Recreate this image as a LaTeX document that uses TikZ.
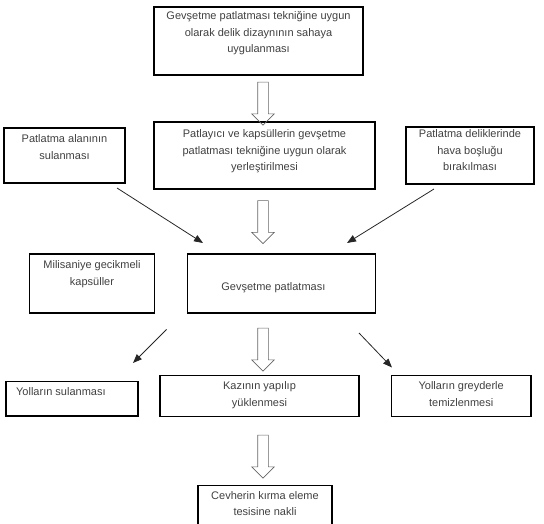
\documentclass[tikz,border=0pt]{standalone}
\usepackage{fontspec}
\setmainfont{Liberation Sans}
\usetikzlibrary{positioning}
\usetikzlibrary{arrows.meta}
\usetikzlibrary{shapes.arrows}

\begin{document}
\begin{tikzpicture}
		[x=1pt, y=-1pt,
		box/.style={rectangle, draw=black, line width=1.1pt, inner sep=0pt},
		txt/.style={font=\fontsize{11}{16.5}\selectfont, text=black!75, align=center, inner sep=0pt},
		hollow/.style={single arrow, draw=black!60, line width=0.6pt, shape border rotate=270, minimum height=43pt, single arrow head extend=6pt, inner sep=5pt},
		slant/.style={draw=black!85, line width=0.8pt, -{Triangle[length=9pt, width=7pt]}}]
		\useasboundingbox (0,0) rectangle (544,524);

		\node[box, minimum width=209pt, minimum height=68pt, label={[txt, below=5pt]north:{Gevşetme patlatması tekniğine uygun\\olarak delik dizaynının sahaya\\uygulanması}}] (delik) at (258.5,41) {};
		\node[box, minimum width=121pt, minimum height=55pt, label={[txt, below=7pt]north:{Patlatma alanının\\sulanması}}] (alan) at (64.5,155.5) {};
		\node[box, minimum width=221pt, minimum height=67pt, label={[txt, below=8pt]north:{Patlayıcı ve kapsüllerin gevşetme\\patlatması tekniğine uygun olarak\\yerleştirilmesi}}] (yer) at (264.5,155.5) {};
		\node[box, minimum width=128pt, minimum height=57pt, label={[txt, below=3pt]north:{Patlatma deliklerinde\\hava boşluğu\\bırakılması}}] (hava) at (470,155.5) {};
		\node[box, minimum width=125pt, minimum height=59pt, label={[txt, below=7pt]north:{Milisaniye gecikmeli\\kapsüller}}] (kapsul) at (92,283.5) {};
		\node[box, minimum width=188pt, minimum height=59pt, label={[txt, xshift=-8pt, yshift=-4pt]center:{Gevşetme patlatması}}] (gev) at (281.4,283.5) {};
		\node[box, minimum width=132pt, minimum height=34.5pt, label={[txt, anchor=north west, xshift=10.5pt, yshift=-6.5pt]north west:{Yolların sulanması}}] (yolsu) at (72,398.75) {};
		\node[box, minimum width=199pt, minimum height=40.5pt, label={[txt, below=6.5pt]north:{Kazının yapılıp\\yüklenmesi}}] (kazi) at (259.5,395.8) {};
		\node[box, minimum width=139.5pt, minimum height=40.5pt, label={[txt, below=6.5pt]north:{Yolların greyderle\\temizlenmesi}}] (grey) at (461.2,395.8) {};
		\node[box, minimum width=134pt, minimum height=44.5pt, label={[txt, below=6pt]north:{Cevherin kırma eleme\\tesisine nakli}}] (nakil) at (265,507.75) {};

		\node[hollow] (h1) at (263,101) {};
		\node[hollow] (h2) at (263,219.5) {};
		\node[hollow] (h3) at (263,347) {};
		\node[hollow] (h4) at (263,454) {};

		\coordinate (s1) at (117,188);
		\coordinate (e1) at (203,243);
		\coordinate (s2) at (434,189);
		\coordinate (e2) at (347,243);
		\coordinate (s3) at (166.5,329.5);
		\coordinate (e3) at (133,363);
		\coordinate (s4) at (359,333);
		\coordinate (e4) at (392,367.5);

		\draw[slant] (s1) -- (e1);
		\draw[slant] (s2) -- (e2);
		\draw[slant] (s3) -- (e3);
		\draw[slant] (s4) -- (e4);
	\end{tikzpicture}
\end{document}
